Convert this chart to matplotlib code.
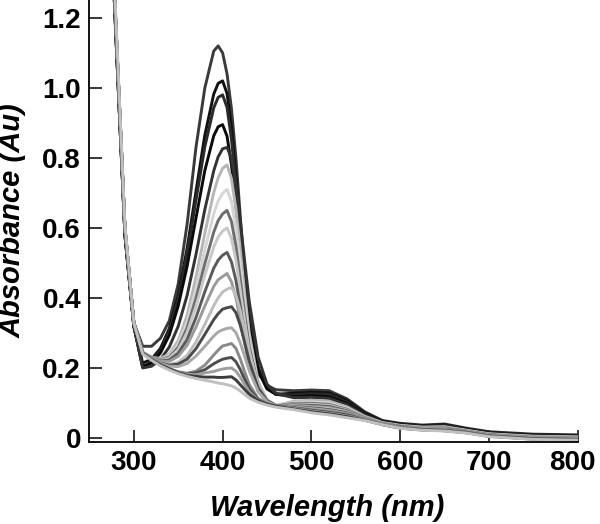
import matplotlib.pyplot as plt
from matplotlib.transforms import ScaledTranslation

# longitudes de onda (nm)
wl = [272, 280, 290, 300, 310, 320, 330, 340, 350, 360, 370, 380, 390, 395, 400, 405,
      410, 415, 420, 425, 430, 440, 450, 460, 480, 500, 520, 540, 560, 580, 600, 625,
      650, 675, 700, 750, 800]

# espectros de absorbancia, del mayor al menor
s01 = [1.62, 1.16, 0.60, 0.33, 0.262, 0.262, 0.285, 0.335, 0.44, 0.61, 0.83, 1.00, 1.105, 1.12, 1.10, 1.04,
       0.94, 0.80, 0.63, 0.46, 0.32, 0.185, 0.15, 0.138, 0.135, 0.137, 0.135, 0.112, 0.075, 0.05, 0.042, 0.037,
       0.04, 0.028, 0.018, 0.011, 0.009]
s02 = [1.60, 1.14, 0.58, 0.32, 0.214, 0.225, 0.256, 0.313, 0.408, 0.541, 0.704, 0.865, 0.982, 1.013, 1.02, 0.984,
       0.888, 0.751, 0.606, 0.466, 0.348, 0.203, 0.143, 0.125, 0.128, 0.131, 0.129, 0.107, 0.072, 0.048, 0.04, 0.035,
       0.038, 0.026, 0.016, 0.009, 0.007]
s03 = [1.60, 1.14, 0.58, 0.32, 0.204, 0.217, 0.249, 0.306, 0.398, 0.525, 0.679, 0.832, 0.943, 0.973, 0.98, 0.944,
       0.853, 0.723, 0.584, 0.45, 0.338, 0.199, 0.142, 0.125, 0.123, 0.126, 0.124, 0.103, 0.069, 0.047, 0.039, 0.034,
       0.037, 0.025, 0.015, 0.008, 0.006]
s04 = [1.60, 1.14, 0.58, 0.32, 0.203, 0.214, 0.243, 0.294, 0.377, 0.49, 0.628, 0.764, 0.863, 0.889, 0.895, 0.862,
       0.78, 0.662, 0.538, 0.418, 0.317, 0.192, 0.14, 0.125, 0.118, 0.121, 0.118, 0.099, 0.067, 0.046, 0.038, 0.033,
       0.035, 0.024, 0.014, 0.007, 0.005]
s05 = [1.60, 1.14, 0.58, 0.32, 0.20, 0.205, 0.224, 0.26, 0.319, 0.407, 0.524, 0.653, 0.763, 0.803, 0.826, 0.83,
       0.799, 0.72, 0.618, 0.501, 0.39, 0.231, 0.154, 0.128, 0.115, 0.116, 0.113, 0.095, 0.065, 0.045, 0.037, 0.032,
       0.034, 0.023, 0.013, 0.006, 0.004]
s06 = [1.63, 1.17, 0.60, 0.33, 0.245, 0.231, 0.227, 0.24, 0.278, 0.35, 0.459, 0.585, 0.701, 0.743, 0.77, 0.78,
       0.741, 0.655, 0.536, 0.411, 0.30, 0.161, 0.109, 0.093, 0.105, 0.108, 0.105, 0.089, 0.062, 0.044, 0.036, 0.031,
       0.032, 0.022, 0.012, 0.005, 0.003]
s07 = [1.63, 1.17, 0.60, 0.33, 0.245, 0.23, 0.225, 0.235, 0.268, 0.331, 0.426, 0.538, 0.64, 0.677, 0.699, 0.71,
       0.675, 0.598, 0.491, 0.378, 0.279, 0.155, 0.107, 0.093, 0.102, 0.103, 0.10, 0.085, 0.06, 0.043, 0.035, 0.03,
       0.031, 0.021, 0.011, 0.004, 0.002]
s08 = [1.63, 1.17, 0.60, 0.33, 0.244, 0.23, 0.224, 0.231, 0.259, 0.314, 0.399, 0.498, 0.588, 0.621, 0.64, 0.65,
       0.618, 0.548, 0.452, 0.351, 0.261, 0.15, 0.106, 0.092, 0.099, 0.099, 0.096, 0.082, 0.059, 0.042, 0.034, 0.029,
       0.03, 0.02, 0.01, 0.003, 0.001]
s09 = [1.63, 1.17, 0.60, 0.33, 0.244, 0.229, 0.222, 0.228, 0.252, 0.301, 0.376, 0.465, 0.545, 0.574, 0.591, 0.60,
       0.57, 0.507, 0.42, 0.328, 0.247, 0.145, 0.105, 0.092, 0.097, 0.096, 0.093, 0.08, 0.058, 0.042, 0.033, 0.028,
       0.029, 0.019, 0.009, 0.002, 0.0]
s10 = [1.63, 1.17, 0.60, 0.33, 0.244, 0.229, 0.22, 0.223, 0.242, 0.281, 0.344, 0.418, 0.485, 0.508, 0.522, 0.53,
       0.503, 0.45, 0.375, 0.296, 0.226, 0.139, 0.104, 0.092, 0.095, 0.093, 0.09, 0.078, 0.057, 0.041, 0.033, 0.027,
       0.028, 0.019, 0.009, 0.001, -0.001]
s11 = [1.63, 1.17, 0.60, 0.33, 0.244, 0.228, 0.219, 0.219, 0.233, 0.265, 0.317, 0.377, 0.433, 0.452, 0.461, 0.47,
       0.446, 0.40, 0.336, 0.269, 0.208, 0.133, 0.103, 0.092, 0.093, 0.09, 0.087, 0.076, 0.056, 0.041, 0.032, 0.027,
       0.027, 0.018, 0.008, 0.0, -0.002]
s12 = [1.63, 1.17, 0.60, 0.33, 0.244, 0.227, 0.215, 0.21, 0.216, 0.236, 0.274, 0.325, 0.378, 0.40, 0.417, 0.425,
       0.43, 0.408, 0.363, 0.304, 0.243, 0.152, 0.109, 0.093, 0.092, 0.088, 0.084, 0.074, 0.055, 0.04, 0.031, 0.026,
       0.026, 0.018, 0.008, 0.0, -0.002]
s13 = [1.63, 1.17, 0.60, 0.33, 0.243, 0.226, 0.214, 0.208, 0.211, 0.225, 0.255, 0.296, 0.338, 0.355, 0.368, 0.372,
       0.375, 0.358, 0.321, 0.271, 0.219, 0.143, 0.107, 0.093, 0.09, 0.086, 0.081, 0.072, 0.054, 0.04, 0.031, 0.025,
       0.025, 0.017, 0.007, -0.001, -0.003]
s14 = [1.63, 1.17, 0.60, 0.33, 0.243, 0.226, 0.213, 0.205, 0.204, 0.213, 0.234, 0.262, 0.291, 0.303, 0.309, 0.313,
       0.315, 0.301, 0.271, 0.232, 0.192, 0.133, 0.104, 0.092, 0.089, 0.084, 0.079, 0.07, 0.054, 0.04, 0.03, 0.025,
       0.024, 0.017, 0.007, -0.001, -0.003]
s15 = [1.63, 1.17, 0.60, 0.33, 0.243, 0.225, 0.21, 0.198, 0.189, 0.185, 0.191, 0.208, 0.237, 0.251, 0.263, 0.266,
       0.27, 0.256, 0.225, 0.188, 0.153, 0.113, 0.098, 0.091, 0.087, 0.081, 0.076, 0.068, 0.053, 0.039, 0.03, 0.024,
       0.023, 0.016, 0.006, -0.002, -0.004]
s16 = [1.63, 1.17, 0.60, 0.33, 0.243, 0.225, 0.21, 0.198, 0.188, 0.183, 0.186, 0.195, 0.212, 0.219, 0.225, 0.228,
       0.23, 0.218, 0.195, 0.167, 0.141, 0.11, 0.097, 0.091, 0.086, 0.079, 0.073, 0.066, 0.052, 0.039, 0.029, 0.024,
       0.022, 0.016, 0.006, -0.002, -0.004]
s17 = [1.63, 1.17, 0.60, 0.33, 0.243, 0.225, 0.21, 0.198, 0.188, 0.182, 0.181, 0.186, 0.19, 0.194, 0.197, 0.199,
       0.20, 0.191, 0.173, 0.152, 0.132, 0.108, 0.097, 0.091, 0.085, 0.077, 0.071, 0.063, 0.052, 0.039, 0.029, 0.023,
       0.021, 0.015, 0.005, -0.003, -0.005]
s18 = [1.63, 1.17, 0.60, 0.33, 0.242, 0.224, 0.209, 0.197, 0.187, 0.179, 0.176, 0.174, 0.174, 0.173, 0.173, 0.174,
       0.175, 0.166, 0.152, 0.138, 0.125, 0.107, 0.097, 0.091, 0.083, 0.075, 0.069, 0.061, 0.051, 0.038, 0.028, 0.023,
       0.021, 0.015, 0.005, -0.003, -0.005]
s19 = [1.66, 1.19, 0.61, 0.33, 0.24, 0.222, 0.206, 0.194, 0.184, 0.176, 0.17, 0.165, 0.16, 0.157, 0.155, 0.152,
       0.149, 0.143, 0.134, 0.124, 0.114, 0.102, 0.094, 0.088, 0.081, 0.072, 0.066, 0.058, 0.05, 0.038, 0.028, 0.022,
       0.02, 0.014, 0.004, -0.004, -0.006]

espectros = [s01, s02, s03, s04, s05, s06, s07, s08, s09, s10,
             s11, s12, s13, s14, s15, s16, s17, s18, s19]
grises = ['#3a3a3a', '#111111', '#2a2a2a', '#0a0a0a', '#333333', '#b5b5b5', '#d5d5d5',
          '#6e6e6e', '#c8c8c8', '#5a5a5a', '#9a9a9a', '#bdbdbd', '#4a4a4a', '#a8a8a8',
          '#8a8a8a', '#4d4d4d', '#9e9e9e', '#3c3c3c', '#c0c0c0']

plt.rcParams['font.family'] = ['Liberation Sans', 'DejaVu Sans']

fig = plt.figure(figsize=(6, 5.24), dpi=100)
ax = fig.add_axes([0.149, 0.1565, 0.814, 0.8435])

for s, c in zip(espectros, grises):
    ax.plot(wl, s, color=c, lw=2.1)

ax.set_xlim(250, 800)
ax.set_ylim(-0.0114, 1.251)
ax.set_xticks([300, 400, 500, 600, 700, 800])
ax.set_yticks([0, 0.2, 0.4, 0.6, 0.8, 1.0, 1.2])
ax.set_yticklabels(['0', '0.2', '0.4', '0.6', '0.8', '1.0', '1.2'])

for lado in ['top', 'right']:
    ax.spines[lado].set_visible(False)
for lado in ['left', 'bottom']:
    ax.spines[lado].set_linewidth(1.3)

ax.tick_params(direction='in', length=9, width=1.1, labelsize=20, pad=6)
for t in ax.get_xticklabels() + ax.get_yticklabels():
    t.set_fontweight('bold')

# la ultima etiqueta (800) se corre a la izquierda para que quepa en el borde
ult = ax.xaxis.get_major_ticks()[-1].label1
ult.set_horizontalalignment('right')
ult.set_transform(ult.get_transform() + ScaledTranslation(0.18, 0, fig.dpi_scale_trans))

ax.set_xlabel('Wavelength (nm)', fontsize=21, fontweight='bold', fontstyle='italic')
ax.set_ylabel('Absorbance (Au)', fontsize=21, fontweight='bold', fontstyle='italic')
ax.xaxis.set_label_coords(0.486, -0.118)
ax.yaxis.set_label_coords(-0.128, 0.5)

fig.savefig('out.png', dpi=100)
